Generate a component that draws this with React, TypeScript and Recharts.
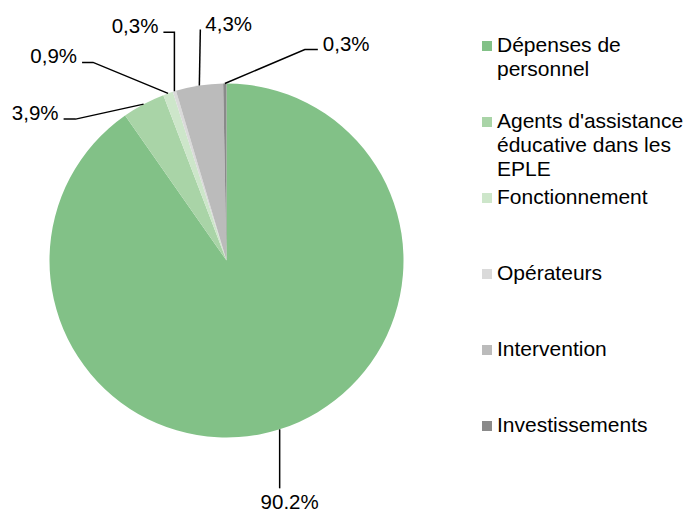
import React from "react";
import { PieChart, Pie, Cell, Legend } from "recharts";

// Budget breakdown by nature of expenditure
const categories = [
  "Dépenses de personnel",
  "Agents d'assistance éducative dans les EPLE",
  "Fonctionnement",
  "Opérateurs",
  "Intervention",
  "Investissements",
];
const shares = [90.2, 3.9, 0.9, 0.3, 4.3, 0.3];
const shareLabels = ["90.2%", "3,9%", "0,9%", "0,3%", "4,3%", "0,3%"];
const colors = ["#82C187", "#A9D4A7", "#CDE6CA", "#DADADA", "#BBBBBB", "#8A8A8A"];

const data = categories.map((name, i) => ({ name, value: shares[i] }));

const FONT = "'Liberation Sans', Arial, sans-serif";

// leader line elbows, relative to the point on the slice edge
const leaders = [
  { dx: 0, dy: 59, tail: 0 },
  { dx: -68, dy: 15, tail: -12 },
  { dx: -75, dy: -31, tail: -11 },
  { dx: 0, dy: -59, tail: -11 },
  { dx: 1, dy: -56, tail: 0 },
  { dx: 80, dy: -34, tail: 13 },
];

const RADIAN = Math.PI / 180;

const renderLabel = (props: any) => {
  const { cx, cy, midAngle, outerRadius, index } = props;
  const ex = cx + outerRadius * Math.cos(-midAngle * RADIAN);
  const ey = cy + outerRadius * Math.sin(-midAngle * RADIAN);
  const l = leaders[index];
  const bx = ex + l.dx;
  const by = ey + l.dy;
  const tx = bx + l.tail;

  let textX = tx;
  let textY = by + 1;
  let anchor: "start" | "end" | "middle" = "start";
  if (index === 0) {
    textX = bx + 10;
    textY = by + 21;
    anchor = "middle";
  } else if (l.tail < 0) {
    textX = tx - 5;
    anchor = "end";
  } else {
    textX = tx + 5;
    anchor = "start";
  }

  return (
    <g key={`lbl-${index}`}>
      <polyline
        points={`${ex},${ey} ${bx},${by} ${tx},${by}`}
        fill="none"
        stroke="#000"
        strokeWidth={1.5}
      />
      <text
        x={textX}
        y={textY}
        textAnchor={anchor}
        fontSize={20.5}
        fontFamily={FONT}
        fill="#000"
      >
        {shareLabels[index]}
      </text>
    </g>
  );
};

const renderLegend = () => (
  <div style={{ fontFamily: FONT, fontSize: 21, lineHeight: "24px", color: "#000" }}>
    {categories.map((name, i) => (
      <div key={name} style={{ height: 76, display: "flex", alignItems: "flex-start" }}>
        <span
          style={{
            display: "inline-block",
            width: 10,
            height: 10,
            marginTop: 8,
            marginRight: 5,
            background: colors[i],
            flexShrink: 0,
          }}
        />
        <span style={{ width: 192 }}>{name}</span>
      </div>
    ))}
  </div>
);

export default function App() {
  return (
    <div style={{ position: "fixed", left: 0, top: 0, background: "#fff" }}>
      <PieChart width={689} height={511} margin={{ top: 0, right: 0, bottom: 0, left: 0 }}>
        <Pie
          data={data}
          dataKey="value"
          nameKey="name"
          cx={226.5}
          cy={260.5}
          outerRadius={177}
          startAngle={90}
          endAngle={-270}
          stroke="none"
          label={renderLabel}
          labelLine={false}
          isAnimationActive={false}
        >
          {data.map((entry, i) => (
            <Cell key={`cell-${i}`} fill={colors[i]} />
          ))}
        </Pie>
        <Legend
          content={renderLegend}
          layout="vertical"
          align="right"
          verticalAlign="top"
          wrapperStyle={{ left: 482, top: 33, width: 207 }}
        />
      </PieChart>
    </div>
  );
}
